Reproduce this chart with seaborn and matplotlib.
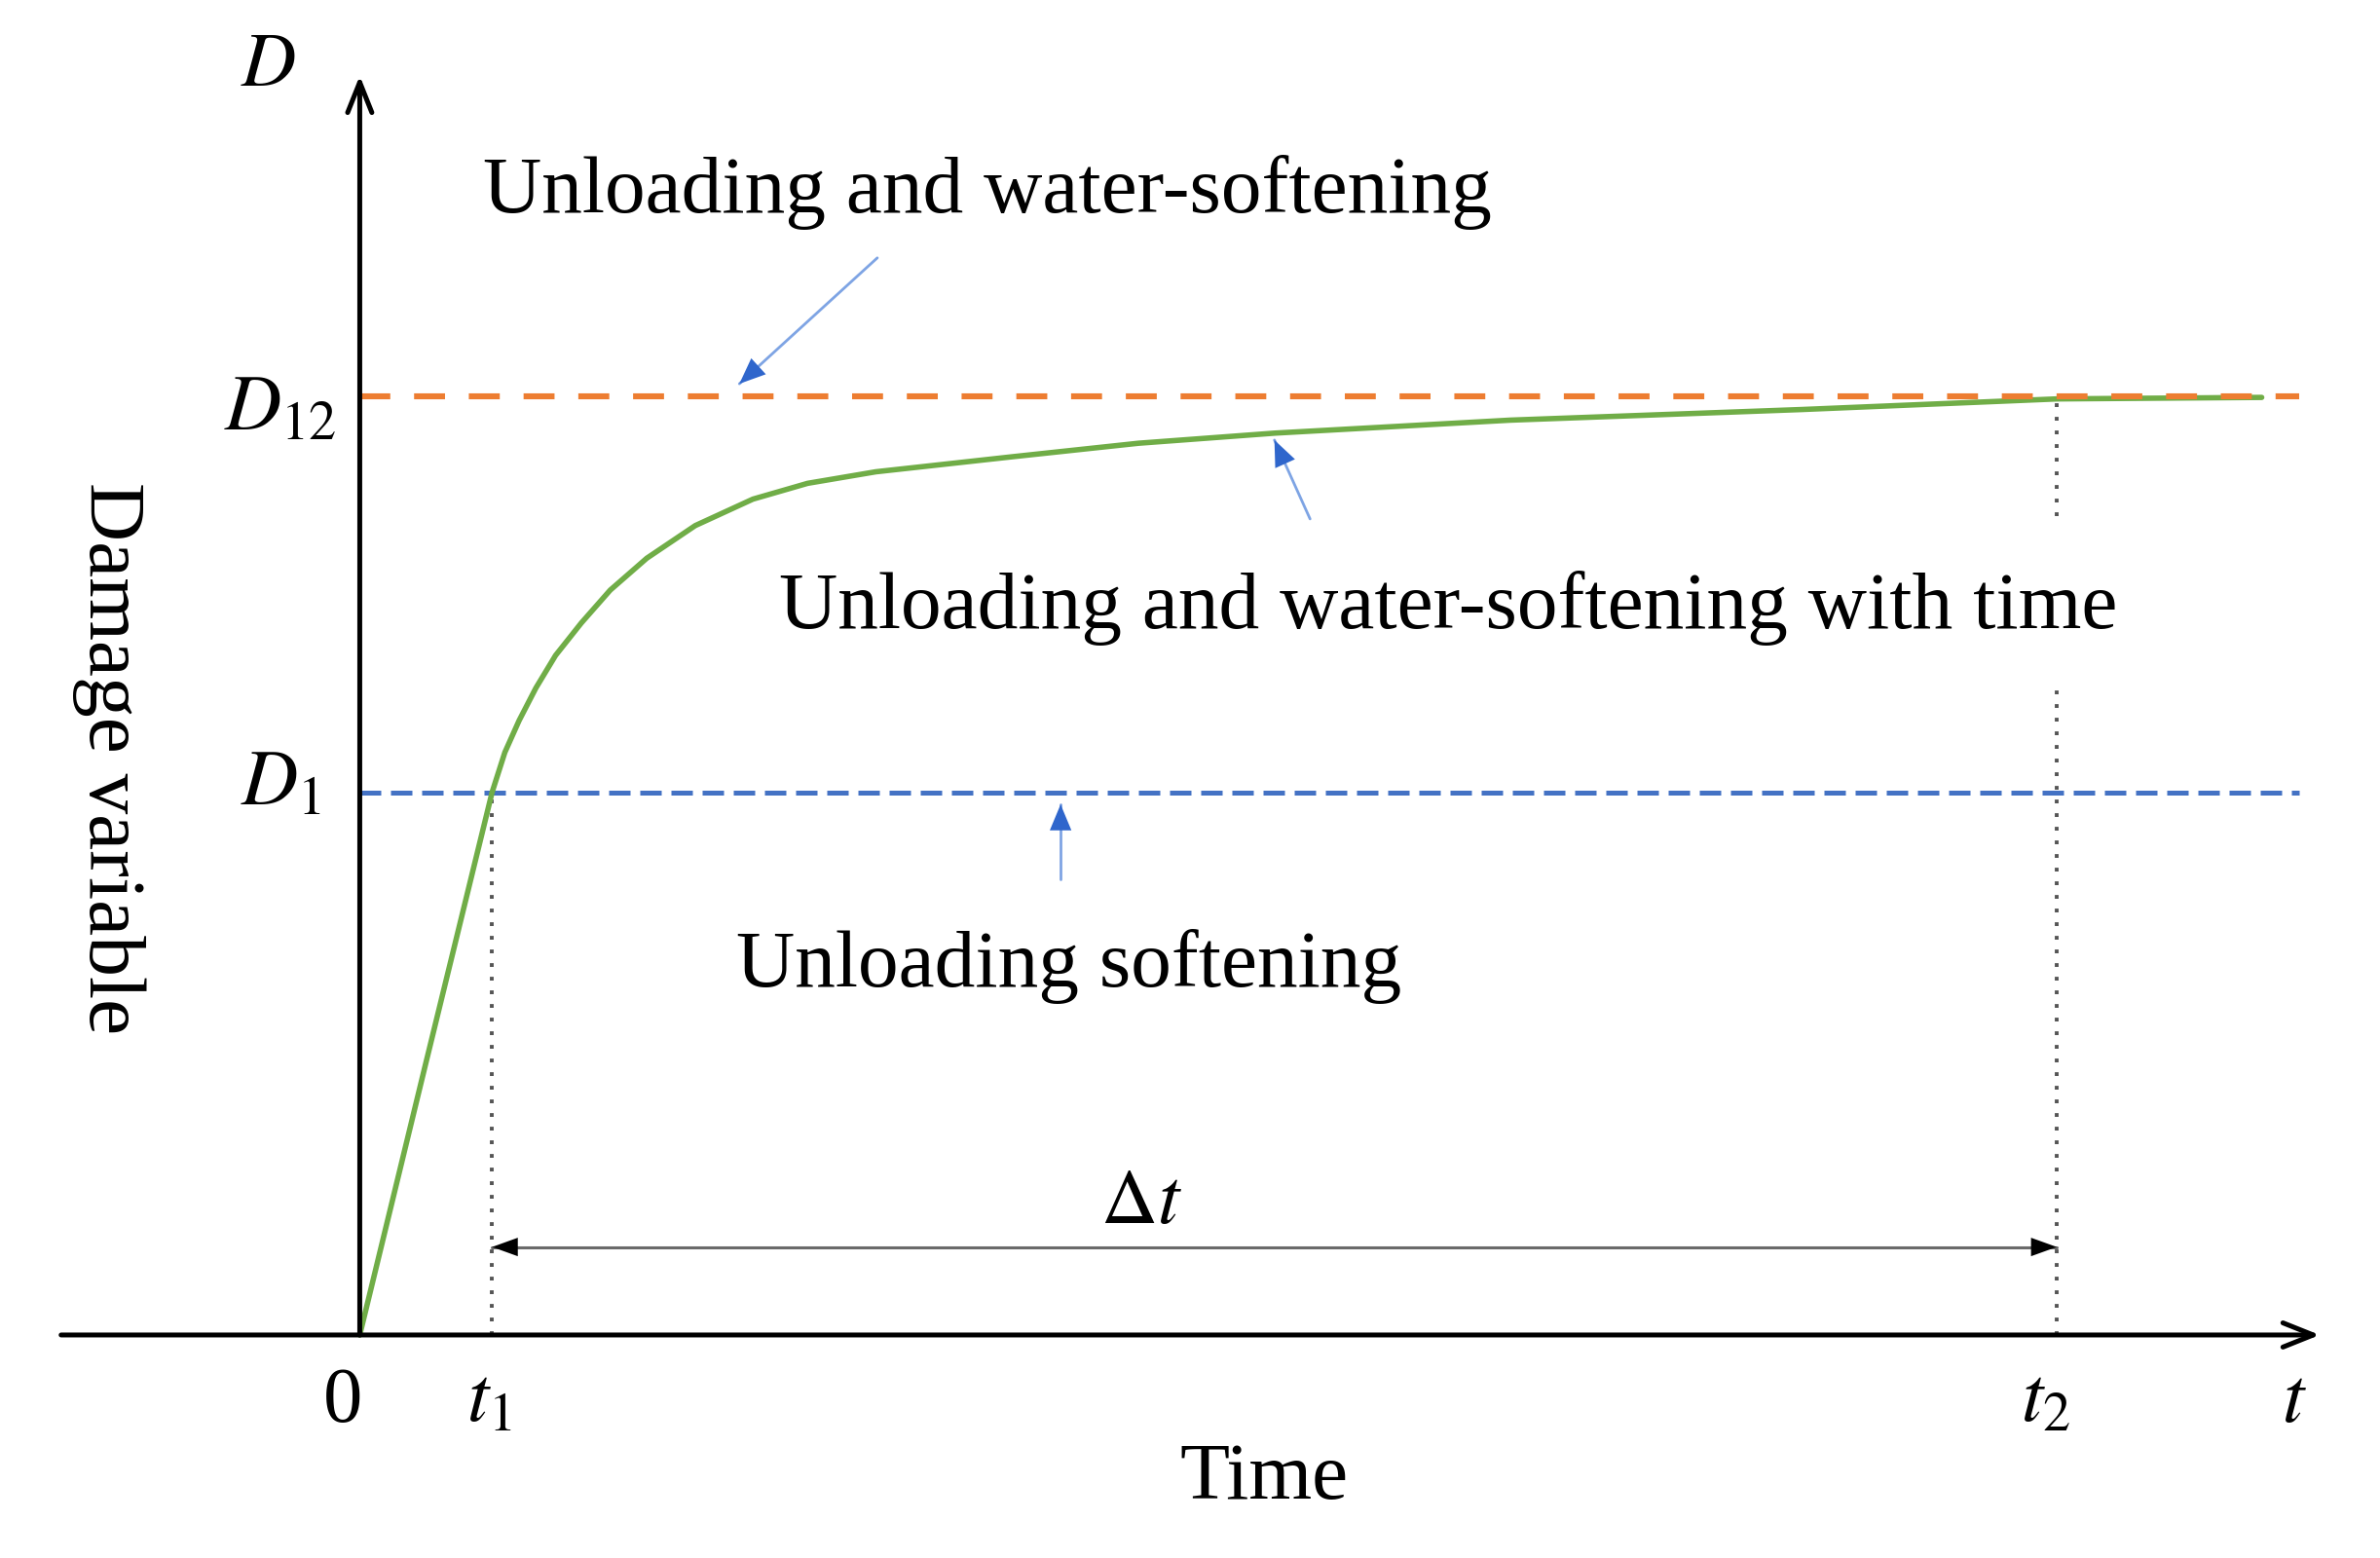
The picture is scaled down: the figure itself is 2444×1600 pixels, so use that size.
import pandas as pd
import matplotlib
matplotlib.use("Agg")
import matplotlib.pyplot as plt
import seaborn as sns

# green damage curve (t scaled so t2 = 1, D scaled so D12 = 1)
t_curve = [0, 0.039, 0.078, 0.0855, 0.0939, 0.1038, 0.1154, 0.1306, 0.1476, 0.1691,
           0.1977, 0.2317, 0.2639, 0.3041, 0.3855, 0.4589, 0.5394, 0.678, 0.8497,
           1.0, 1.1208]
d_curve = [0, 0.29, 0.578, 0.6204, 0.6543, 0.689, 0.7237, 0.7583, 0.7932, 0.8271,
           0.8619, 0.8901, 0.9069, 0.9192, 0.9354, 0.9496, 0.9604, 0.9742, 0.9855,
           0.9968, 0.9984]

t1, t2 = 0.078, 1.0
d1, d12 = 0.578, 1.0

# annotation texts and where their arrows point
notes = ["Unloading and water-softening",
         "Unloading and water-softening with time",
         "Unloading softening"]
note_pos = [(0.0725, 1.1955), (0.2469, 0.7528), (0.2218, 0.3716)]
arrow_from = [(0.305, 1.147), (0.560, 0.869), (0.413, 0.485)]
arrow_to = [(0.2237, 1.0129), (0.539, 0.953), (0.413, 0.565)]

sns.set_theme(style="white")
plt.rcParams['font.family'] = ['Liberation Serif', 'DejaVu Serif']
plt.rcParams['mathtext.fontset'] = 'stix'
plt.rcParams['text.color'] = 'black'

fig = plt.figure(figsize=(24.44, 16), dpi=100)
ax = fig.add_axes([0, 0, 1, 1])
ax.set_xlim(-0.212, 1.1905)
ax.set_ylim(-0.2375, 1.4216)
ax.axis('off')

# curve
df = pd.DataFrame({'t': t_curve, 'D': d_curve})
sns.lineplot(data=df, x='t', y='D', color='#70AD47', lw=4.0, sort=False, ax=ax, zorder=3)

# reference levels
ax.plot([0, 1.143], [d12, d12], color='#ED7D31', lw=4.4, dashes=(5.2, 4.0), zorder=4)
ax.plot([0, 1.143], [d1, d1], color='#4472C4', lw=3.6, dashes=(4.4, 2.0), zorder=2)

# dotted guides
dot = dict(color='#555555', lw=2.8, dashes=(1, 2.6), zorder=2)
ax.plot([t1, t1], [0, d1], **dot)
ax.plot([t2, t2], [0.872, d12], **dot)
ax.plot([t2, t2], [0, 0.695], **dot)

# axes with open arrow heads
ax_arrow = dict(arrowstyle='->,head_length=0.4,head_width=0.16', color='black',
                lw=3.6, mutation_scale=56, shrinkA=0, shrinkB=0)
ax.annotate('', xy=(1.155, 0), xytext=(-0.176, 0), arrowprops=ax_arrow, zorder=5)
ax.annotate('', xy=(0, 1.341), xytext=(0, 0), arrowprops=ax_arrow, zorder=5)

# delta t span
y_dt = 0.0937
ax.plot([t1, t2], [y_dt, y_dt], color='#6a6a6a', lw=2.2)
head = dict(arrowstyle='-|>,head_length=0.5,head_width=0.18', fc='black', ec='none',
            lw=0, mutation_scale=38, shrinkA=0, shrinkB=0)
ax.annotate('', xy=(t1, y_dt), xytext=(t1 + 0.05, y_dt), arrowprops=head)
ax.annotate('', xy=(t2, y_dt), xytext=(t2 - 0.05, y_dt), arrowprops=head)
ax.text(0.4606, 0.1195, r'$\Delta t$', fontsize=58, ha='center', va='baseline')

# blue pointer arrows
for (xs, ys), (xe, ye) in zip(arrow_from, arrow_to):
    ax.plot([xs, xe], [ys, ye], color='#7ea4e4', lw=2.0, zorder=5)
    ax.annotate('', xy=(xe, ye), xytext=(xs, ys),
                arrowprops=dict(arrowstyle='-|>,head_length=0.6,head_width=0.25',
                                fc='#2f66cc', ec='none', lw=0, mutation_scale=32,
                                shrinkA=0, shrinkB=0), zorder=6)

for txt, (x, y) in zip(notes, note_pos):
    ax.text(x, y, txt, fontsize=60, ha='left', va='baseline')

# axis labels and marks
ax.text(-0.0537, 1.33, r'$D$', fontsize=56, ha='center', va='baseline')
ax.text(-0.0134, 0.9645, r'$D_{12}$', fontsize=58, ha='right', va='baseline')
ax.text(-0.0224, 0.5654, r'$D_{1}$', fontsize=58, ha='right', va='baseline')
ax.text(-0.0098, -0.092, '0', fontsize=58, ha='center', va='baseline')
ax.text(0.076, -0.092, r'$t_{1}$', fontsize=58, ha='center', va='baseline')
ax.text(0.9937, -0.092, r'$t_{2}$', fontsize=58, ha='center', va='baseline')
ax.text(1.140, -0.092, r'$t$', fontsize=58, ha='center', va='baseline')
ax.text(0.533, -0.1745, 'Time', fontsize=60, ha='center', va='baseline')
ax.text(-0.1476, 0.614, 'Damage variable', fontsize=60, rotation=-90,
        ha='center', va='center')

fig.savefig('out.png', dpi=100, facecolor='white')
